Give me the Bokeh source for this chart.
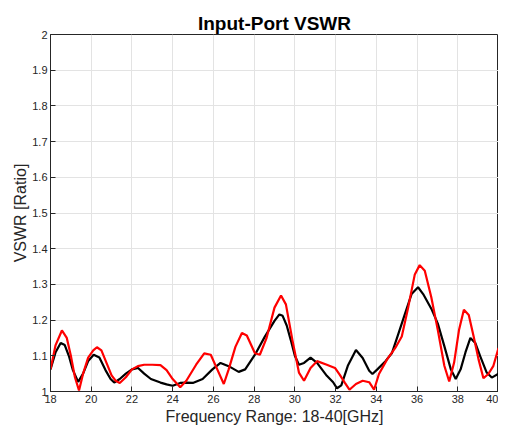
from bokeh.plotting import figure
from bokeh.models import Range1d, FixedTicker
from bokeh.embed import file_html
from bokeh.resources import INLINE

freq_black = [18.0, 18.25, 18.5, 18.7, 18.9, 19.1, 19.36, 19.6, 19.85, 20.12, 20.4, 20.7, 20.95, 21.13, 21.4, 21.7,
              22.0, 22.3, 22.6, 22.93, 23.4, 23.7, 24.0, 24.37, 24.67, 24.99, 25.47, 25.95, 26.35, 26.75, 27.24,
              27.56, 28.04, 28.52, 29.0, 29.24, 29.4, 29.6, 29.8, 30.0, 30.2, 30.45, 30.77, 31.09, 31.57, 31.88,
              32.07, 32.28, 32.6, 33.0, 33.33, 33.65, 33.81, 34.05, 34.45, 34.77, 35.09, 35.41, 35.73, 36.05, 36.3,
              36.7, 37.02, 37.34, 37.66, 37.9, 38.14, 38.38, 38.62, 38.86, 39.1, 39.42, 39.67, 40.0]
vswr_black = [1.062, 1.11, 1.136, 1.13, 1.1, 1.06, 1.027, 1.05, 1.085, 1.103, 1.095, 1.06, 1.035, 1.025, 1.035, 1.05,
              1.062, 1.066, 1.05, 1.035, 1.025, 1.02, 1.016, 1.024, 1.025, 1.024, 1.035, 1.062, 1.08, 1.071, 1.055,
              1.062, 1.103, 1.153, 1.198, 1.216, 1.212, 1.185, 1.144, 1.1, 1.075, 1.08, 1.095, 1.08, 1.044, 1.026,
              1.009, 1.017, 1.072, 1.116, 1.094, 1.058, 1.049, 1.062, 1.085, 1.108, 1.163, 1.218, 1.273, 1.292, 1.273,
              1.232, 1.19, 1.127, 1.062, 1.035, 1.062, 1.11, 1.15, 1.136, 1.099, 1.053, 1.039, 1.05]

freq_red = [18.0, 18.25, 18.56, 18.8, 19.0, 19.2, 19.4, 19.6, 19.85, 20.1, 20.28, 20.5, 20.75, 21.0, 21.2, 21.4, 21.7,
            22.0, 22.29, 22.6, 23.0, 23.4, 23.7, 24.0, 24.37, 24.67, 25.15, 25.55, 25.87, 26.19, 26.51, 26.75, 27.08,
            27.4, 27.64, 28.04, 28.28, 28.6, 29.0, 29.32, 29.56, 29.88, 30.2, 30.45, 30.77, 31.09, 31.57, 31.97, 32.2,
            32.45, 32.68, 33.0, 33.33, 33.65, 33.89, 34.13, 34.53, 34.93, 35.25, 35.57, 35.89, 36.13, 36.38, 36.7,
            37.02, 37.34, 37.58, 37.82, 38.06, 38.3, 38.54, 38.78, 39.02, 39.26, 39.5, 39.75, 40.0]
vswr_red = [1.062, 1.13, 1.171, 1.15, 1.1, 1.04, 1.003, 1.05, 1.095, 1.115, 1.124, 1.115, 1.08, 1.045, 1.03, 1.024, 1.04,
            1.062, 1.071, 1.075, 1.075, 1.074, 1.06, 1.035, 1.012, 1.03, 1.075, 1.107, 1.103, 1.062, 1.021, 1.062, 1.125,
            1.164, 1.157, 1.107, 1.103, 1.148, 1.235, 1.269, 1.244, 1.144, 1.053, 1.03, 1.066, 1.085, 1.075, 1.066, 1.047,
            1.025, 1.005, 1.021, 1.03, 1.026, 1.005, 1.049, 1.09, 1.122, 1.154, 1.237, 1.328, 1.354, 1.338, 1.264,
            1.172, 1.072, 1.028, 1.081, 1.172, 1.229, 1.214, 1.154, 1.09, 1.037, 1.049, 1.072, 1.122]

x_ticks = [18, 20, 22, 24, 26, 28, 30, 32, 34, 36, 38, 40]
y_ticks = [1.0, 1.1, 1.2, 1.3, 1.4, 1.5, 1.6, 1.7, 1.8, 1.9, 2.0]
y_tick_labels = ["1", "1.1", "1.2", "1.3", "1.4", "1.5", "1.6", "1.7", "1.8", "1.9", "2"]

FONT = "Liberation Sans"
TXT = "#262626"

p = figure(width=498, height=427, output_backend="svg", toolbar_location=None,
           x_range=Range1d(18, 40), y_range=Range1d(1, 2),
           min_border_left=50, min_border_right=0, min_border_top=34, min_border_bottom=30)

p.title.text = "Input-Port VSWR"
p.title.align = "center"
p.title.text_font = FONT
p.title.text_font_size = "19px"
p.title.text_font_style = "bold"
p.title.text_color = "#000000"
p.title.standoff = 2

p.line(freq_black, vswr_black, line_color="#000000", line_width=2.2)
p.line(freq_red, vswr_red, line_color="#ff0000", line_width=2.2)

p.xaxis.ticker = FixedTicker(ticks=x_ticks)
p.yaxis.ticker = FixedTicker(ticks=y_ticks)
p.yaxis.major_label_overrides = {t: l for t, l in zip(y_ticks, y_tick_labels)}
p.xaxis.major_label_overrides = {t: str(t) for t in x_ticks}

for ax in (p.xaxis, p.yaxis):
    ax.major_label_text_font = FONT
    ax.major_label_text_font_size = "11px"
    ax.major_label_text_color = TXT
    ax.axis_label_text_font = FONT
    ax.axis_label_text_font_size = "16px"
    ax.axis_label_text_font_style = "normal"
    ax.axis_label_text_color = TXT
    ax.axis_line_color = TXT
    ax.major_tick_in = 5
    ax.major_tick_out = 0
    ax.minor_tick_line_color = None
    ax.major_tick_line_color = TXT

p.xaxis.axis_label = "Frequency Range: 18-40[GHz]"
p.yaxis.axis_label = "VSWR [Ratio]"
p.xaxis.major_label_standoff = 3
p.yaxis.major_label_standoff = 3
p.xaxis.axis_label_standoff = 2
p.yaxis.axis_label_standoff = 0

p.outline_line_color = TXT
p.outline_line_width = 1
p.grid.grid_line_color = "#e3e3e3"
p.grid.grid_line_width = 1
p.background_fill_color = "white"
p.border_fill_color = "white"

open("out.html", "w").write(file_html(p, INLINE))
